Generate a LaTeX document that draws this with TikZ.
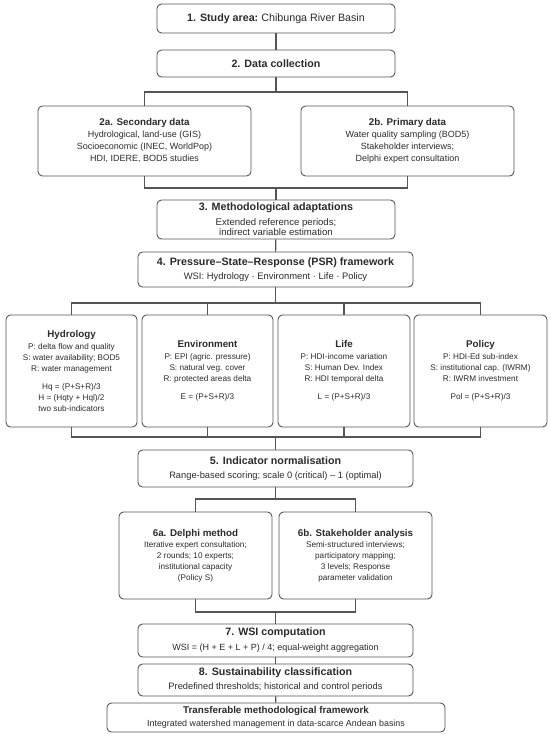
\documentclass[tikz,border=0pt]{standalone}
\usepackage{fontspec}
\setmainfont{Liberation Sans}
\usepackage{xcolor}
\definecolor{linecolor}{HTML}{555555}
\definecolor{textcolor}{HTML}{2B2B2B}

\newcommand{\ttl}[1]{{\fontsize{10.7}{12}\selectfont\bfseries #1}}
\newcommand{\sttl}[1]{{\fontsize{9.8}{12}\selectfont\bfseries #1}}

\tikzset{
    box/.style = {draw = linecolor, line width = 0.9pt, rounded corners = 4.5pt, rectangle,
        align = center, inner sep = 0pt, text = textcolor,
        font = \fontsize{8.2}{10.8}\selectfont},
    link/.style = {draw = linecolor, line width = 1.1pt}
}

\begin{document}
\begin{tikzpicture}
        \useasboundingbox (0pt, 0pt) rectangle (550pt, -737pt);
        % Nodes
        \node [box, minimum width = 238pt, minimum height = 29pt] (s1) at (276pt, -18.5pt) {\ttl{1. Study area:} {\fontsize{10.7}{12}\selectfont Chibunga River Basin}};
        \node [box, minimum width = 238pt, minimum height = 27pt] (s2) at (276pt, -63.5pt) {\ttl{2. Data collection}};
        \node [box, minimum width = 213pt, minimum height = 70pt, font = \fontsize{9}{12}\selectfont] (s2a) at (144.5pt, -141pt) {\sttl{2a. Secondary data}\\[0pt] Hydrological, land-use (GIS)\\ Socioeconomic (INEC, WorldPop)\\ HDI, IDERE, BOD5 studies};
        \node [box, minimum width = 213pt, minimum height = 70pt, font = \fontsize{9}{12}\selectfont] (s2b) at (407.5pt, -141pt) {\sttl{2b. Primary data}\\[0pt] Water quality sampling (BOD5)\\ Stakeholder interviews;\\ Delphi expert consultation};
        \node [box, minimum width = 238pt, minimum height = 39pt, font = \fontsize{9.6}{10.5}\selectfont] (s3) at (276pt, -219.5pt) {\ttl{3. Methodological adaptations}\\[4pt] Extended reference periods;\\ indirect variable estimation};
        \node [box, minimum width = 275pt, minimum height = 35pt, font = \fontsize{9.4}{11}\selectfont] (s4) at (275.5pt, -269.5pt) {\ttl{4. Pressure–State–Response (PSR) framework}\\[3pt] WSI: Hydrology · Environment · Life · Policy};
        % The four dimensions
        \node [box, minimum width = 131pt, minimum height = 112pt] (hyd) at (71.5pt, -371pt) {\sttl{Hydrology}\\[1pt] P: delta flow and quality\\ S: water availability; BOD5\\ R: water management\\[8pt] Hq = (P+S+R)/3\\ H = (Hqty + Hql)/2\\ two sub-indicators};
        \node [box, minimum width = 131pt, minimum height = 112pt] (env) at (207.5pt, -371pt) {\sttl{Environment}\\[1pt] P: EPI (agric. pressure)\\ S: natural veg. cover\\ R: protected areas delta\\[8pt] E = (P+S+R)/3};
        \node [box, minimum width = 132pt, minimum height = 112pt] (lif) at (344pt, -371pt) {\sttl{Life}\\[1pt] P: HDI-income variation\\ S: Human Dev. Index\\ R: HDI temporal delta\\[8pt] L = (P+S+R)/3};
        \node [box, minimum width = 133pt, minimum height = 112pt] (pol) at (480.5pt, -371pt) {\sttl{Policy}\\[1pt] P: HDI-Ed sub-index\\ S: institutional cap. (IWRM)\\ R: IWRM investment\\[8pt] Pol = (P+S+R)/3};
        \node [box, minimum width = 275pt, minimum height = 37pt, font = \fontsize{9.3}{11}\selectfont] (s5) at (275.5pt, -468.5pt) {\ttl{5. Indicator normalisation}\\[3pt] Range-based scoring; scale 0 (critical) – 1 (optimal)};
        \node [box, minimum width = 153pt, minimum height = 87pt] (s6a) at (195.5pt, -555.5pt) {\sttl{6a. Delphi method}\\[1pt] Iterative expert consultation;\\ 2 rounds; 10 experts;\\ institutional capacity\\ (Policy S)};
        \node [box, minimum width = 153pt, minimum height = 87pt] (s6b) at (355.5pt, -555.5pt) {\sttl{6b. Stakeholder analysis}\\[1pt] Semi-structured interviews;\\ participatory mapping;\\ 3 levels; Response\\ parameter validation};
        \node [box, minimum width = 275pt, minimum height = 33pt, font = \fontsize{9}{11}\selectfont] (s7) at (275.5pt, -640.5pt) {\ttl{7. WSI computation}\\[4pt] WSI = (H + E + L + P) / 4; equal-weight aggregation};
        \node [box, minimum width = 275pt, minimum height = 32pt, font = \fontsize{9.3}{11}\selectfont] (s8) at (275.5pt, -680pt) {\ttl{8. Sustainability classification}\\[3pt] Predefined thresholds; historical and control periods};
        \node [box, minimum width = 338pt, minimum height = 29pt, font = \fontsize{8.9}{10}\selectfont] (tf) at (276pt, -717.5pt) {\sttl{Transferable methodological framework}\\[3pt] Integrated watershed management in data-scarce Andean basins};
        % Draw the links
        \draw [link] (s1) -- (s2);
        \draw [link] (s2) -- (s2.south |- 0pt, -92pt);
        \draw [link] (s2a) -- (s2a.north |- 0pt, -92pt) -- (s2b.north |- 0pt, -92pt) -- (s2b);
        \draw [link] (s2a) -- (s2a.south |- 0pt, -188pt) -- (s2b.south |- 0pt, -188pt) -- (s2b);
        \draw [link] (s3.north |- 0pt, -188pt) -- (s3);
        \draw [link] (s3) -- (s4);
        \draw [link] (s4) -- (s4.south |- 0pt, -303pt);
        \draw [link] (hyd) -- (hyd.north |- 0pt, -303pt) -- (pol.north |- 0pt, -303pt) -- (pol);
        \draw [link] (env) -- (env.north |- 0pt, -303pt);
        \draw [link] (lif) -- (lif.north |- 0pt, -303pt);
        \draw [link] (hyd) -- (hyd.south |- 0pt, -437pt) -- (pol.south |- 0pt, -437pt) -- (pol);
        \draw [link] (env) -- (env.south |- 0pt, -437pt);
        \draw [link] (lif) -- (lif.south |- 0pt, -437pt);
        \draw [link] (s5.north |- 0pt, -437pt) -- (s5);
        \draw [link] (s5) -- (s5.south |- 0pt, -499pt);
        \draw [link] (s6a) -- (s6a.north |- 0pt, -499pt) -- (s6b.north |- 0pt, -499pt) -- (s6b);
        \draw [link] (s6a) -- (s6a.south |- 0pt, -612pt) -- (s6b.south |- 0pt, -612pt) -- (s6b);
        \draw [link] (s7.north |- 0pt, -612pt) -- (s7);
        \draw [link] (s7) -- (s8);
        \draw [link] (s8) -- (tf);

    \end{tikzpicture}
\end{document}
